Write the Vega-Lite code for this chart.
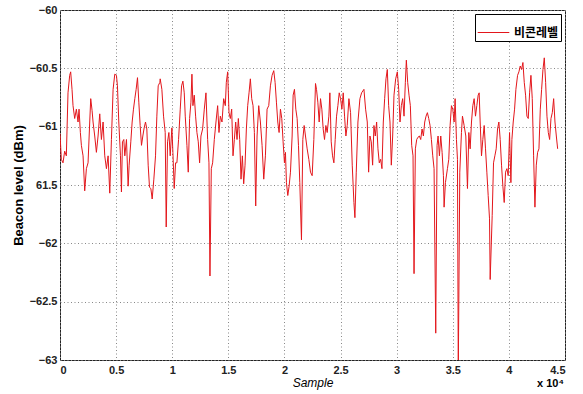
{
  "$schema": "https://vega.github.io/schema/vega-lite/v6.json",
  "width": 505,
  "height": 350,
  "autosize": {"type": "none"},
  "padding": {"left": 60, "top": 10, "right": 18, "bottom": 34},
  "background": "white",
  "config": {
    "view": {"stroke": "#222", "strokeWidth": 1},
    "font": "Liberation Sans",
    "axis": {
      "domain": false,
      "ticks": false,
      "grid": true,
      "gridColor": "#888",
      "gridDash": [1, 2.5],
      "gridWidth": 1,
      "gridOpacity": 1,
      "labelFont": "Liberation Sans",
      "labelFontWeight": "bold",
      "labelFontSize": 11,
      "labelColor": "#222",
      "titleFont": "Liberation Sans",
      "titleColor": "#000"
    }
  },
  "datasets": {
    "beacon": [
      {"s":0,"v":-61.06},{"s":119,"v":-61.28},{"s":268,"v":-61.31},{"s":417,"v":-61.21},{"s":565,"v":-61.25},{"s":714,"v":-60.71},{"s":863,"v":-60.56},{"s":952,"v":-60.53},{"s":1071,"v":-60.68},{"s":1161,"v":-60.82},{"s":1310,"v":-60.93},{"s":1458,"v":-60.85},{"s":1607,"v":-60.96},{"s":1696,"v":-60.85},{"s":1815,"v":-61.05},{"s":1905,"v":-61.16},{"s":2054,"v":-61.25},{"s":2202,"v":-61.55},{"s":2351,"v":-61.36},{"s":2500,"v":-61.31},{"s":2649,"v":-60.96},{"s":2738,"v":-60.76},{"s":2857,"v":-60.86},{"s":2946,"v":-60.96},{"s":3095,"v":-61.08},{"s":3244,"v":-61.22},{"s":3393,"v":-61.08},{"s":3542,"v":-60.89},{"s":3690,"v":-61.11},{"s":3839,"v":-60.96},{"s":3988,"v":-61.25},{"s":4137,"v":-61.36},{"s":4286,"v":-61.25},{"s":4435,"v":-61.57},{"s":4583,"v":-61.11},{"s":4732,"v":-60.68},{"s":4881,"v":-60.55},{"s":5030,"v":-60.56},{"s":5119,"v":-60.65},{"s":5238,"v":-60.96},{"s":5387,"v":-61.25},{"s":5476,"v":-61.56},{"s":5565,"v":-61.13},{"s":5685,"v":-61.11},{"s":5774,"v":-61.25},{"s":5923,"v":-61.11},{"s":6071,"v":-61.51},{"s":6161,"v":-61.33},{"s":6310,"v":-61.13},{"s":6429,"v":-60.96},{"s":6548,"v":-60.85},{"s":6667,"v":-60.76},{"s":6786,"v":-60.68},{"s":6905,"v":-60.58},{"s":7024,"v":-60.79},{"s":7143,"v":-60.99},{"s":7262,"v":-61.16},{"s":7381,"v":-61.08},{"s":7500,"v":-61.01},{"s":7619,"v":-60.96},{"s":7738,"v":-61.02},{"s":7857,"v":-61.33},{"s":7976,"v":-61.52},{"s":8095,"v":-61.53},{"s":8214,"v":-61.62},{"s":8363,"v":-61.45},{"s":8512,"v":-61.25},{"s":8631,"v":-60.91},{"s":8750,"v":-60.65},{"s":8899,"v":-60.62},
      {"s":8929,"v":-60.59},{"s":9077,"v":-60.68},{"s":9226,"v":-60.91},{"s":9375,"v":-61.05},{"s":9464,"v":-61.86},{"s":9583,"v":-61.13},{"s":9702,"v":-61.05},{"s":9821,"v":-61.25},{"s":9970,"v":-61.01},{"s":10060,"v":-61.22},{"s":10179,"v":-61.53},{"s":10298,"v":-61.31},{"s":10417,"v":-61.31},{"s":10565,"v":-61.11},{"s":10714,"v":-60.85},{"s":10833,"v":-60.65},{"s":10952,"v":-60.61},{"s":11071,"v":-60.71},{"s":11161,"v":-60.91},{"s":11310,"v":-61.16},{"s":11429,"v":-61.39},{"s":11548,"v":-60.93},{"s":11667,"v":-60.79},{"s":11756,"v":-60.55},{"s":11845,"v":-60.82},{"s":11964,"v":-60.73},{"s":12083,"v":-60.91},{"s":12202,"v":-61.05},{"s":12321,"v":-61.13},{"s":12440,"v":-61.31},{"s":12560,"v":-61.08},{"s":12708,"v":-61.02},{"s":12857,"v":-60.85},{"s":13006,"v":-60.71},{"s":13155,"v":-61.11},{"s":13274,"v":-61.31},{"s":13363,"v":-62.28},{"s":13482,"v":-61.36},{"s":13601,"v":-61.31},{"s":13750,"v":-61.11},{"s":13899,"v":-60.96},{"s":14048,"v":-60.82},{"s":14167,"v":-61.05},{"s":14286,"v":-60.91},{"s":14435,"v":-60.96},{"s":14583,"v":-60.76},{"s":14732,"v":-60.82},{"s":14821,"v":-60.62},{"s":14940,"v":-60.53},{"s":15060,"v":-60.88},{"s":15179,"v":-60.93},{"s":15298,"v":-60.85},{"s":15417,"v":-61.25},{"s":15536,"v":-61.11},{"s":15655,"v":-60.96},{"s":15774,"v":-61.11},{"s":15893,"v":-60.93},{"s":16012,"v":-61.11},{"s":16131,"v":-61.45},{"s":16250,"v":-61.25},{"s":16369,"v":-61.49},{"s":16488,"v":-61.33},{"s":16607,"v":-61.02},{"s":16726,"v":-60.82},{"s":16845,"v":-60.71},{"s":16964,"v":-60.59},{"s":17083,"v":-60.76},{"s":17202,"v":-60.82},{"s":17321,"v":-61.05},{"s":17440,"v":-61.68},{"s":17560,"v":-61.08},{"s":17708,"v":-60.82},{"s":17857,"v":-60.96},{"s":18006,"v":-61.16},
      {"s":18155,"v":-61.45},{"s":18304,"v":-61.25},{"s":18452,"v":-60.85},{"s":18601,"v":-60.82},{"s":18750,"v":-60.65},{"s":18899,"v":-60.56},{"s":19048,"v":-60.52},{"s":19167,"v":-60.62},{"s":19286,"v":-60.79},{"s":19405,"v":-60.96},{"s":19524,"v":-61.05},{"s":19643,"v":-60.85},{"s":19762,"v":-60.93},{"s":19881,"v":-61.13},{"s":20000,"v":-61.31},{"s":20089,"v":-61.22},{"s":20179,"v":-61.48},{"s":20298,"v":-61.59},{"s":20417,"v":-61.51},{"s":20536,"v":-61.39},{"s":20685,"v":-61.08},{"s":20774,"v":-60.73},{"s":20893,"v":-60.68},{"s":21012,"v":-60.85},{"s":21131,"v":-60.93},{"s":21250,"v":-61.16},{"s":21369,"v":-61.48},{"s":21518,"v":-61.97},{"s":21637,"v":-61.11},{"s":21756,"v":-60.99},{"s":21875,"v":-61.08},{"s":22024,"v":-61.19},{"s":22173,"v":-61.28},{"s":22321,"v":-61.39},{"s":22470,"v":-61.42},{"s":22619,"v":-61.11},{"s":22768,"v":-60.63},{"s":22857,"v":-60.68},{"s":22976,"v":-60.79},{"s":23095,"v":-60.96},{"s":23214,"v":-60.76},{"s":23333,"v":-60.85},{"s":23452,"v":-61.02},{"s":23571,"v":-61.11},{"s":23690,"v":-60.99},{"s":23810,"v":-61.05},{"s":23958,"v":-60.91},{"s":24048,"v":-60.71},{"s":24167,"v":-61.13},{"s":24286,"v":-61.25},{"s":24405,"v":-61.31},{"s":24524,"v":-61.11},{"s":24643,"v":-60.91},{"s":24762,"v":-60.82},{"s":24881,"v":-60.71},{"s":25000,"v":-60.76},{"s":25119,"v":-60.85},{"s":25238,"v":-60.71},{"s":25357,"v":-60.91},{"s":25476,"v":-61.08},{"s":25595,"v":-60.99},{"s":25744,"v":-60.76},{"s":25893,"v":-60.88},{"s":26042,"v":-61.33},{"s":26190,"v":-61.65},{"s":26280,"v":-61.78},{"s":26399,"v":-61.39},{"s":26548,"v":-60.96},{"s":26726,"v":-60.76},{"s":26875,"v":-60.71},
      {"s":27083,"v":-60.68},{"s":27232,"v":-60.85},{"s":27381,"v":-60.96},{"s":27500,"v":-61.39},{"s":27619,"v":-61.08},{"s":27738,"v":-61.13},{"s":27857,"v":-61.33},{"s":27976,"v":-60.99},{"s":28095,"v":-61.08},{"s":28214,"v":-60.96},{"s":28333,"v":-61.19},{"s":28452,"v":-61.31},{"s":28571,"v":-61.28},{"s":28690,"v":-61.36},{"s":28810,"v":-60.96},{"s":28929,"v":-60.76},{"s":29048,"v":-60.59},{"s":29167,"v":-60.51},{"s":29286,"v":-60.82},{"s":29405,"v":-60.96},{"s":29524,"v":-61.33},{"s":29643,"v":-61.08},{"s":29762,"v":-60.73},{"s":29911,"v":-60.59},{"s":30060,"v":-60.53},{"s":30179,"v":-60.68},{"s":30298,"v":-60.96},{"s":30417,"v":-60.82},{"s":30536,"v":-60.76},{"s":30655,"v":-60.91},{"s":30774,"v":-60.62},{"s":30863,"v":-60.43},{"s":30982,"v":-60.62},{"s":31101,"v":-60.73},{"s":31220,"v":-60.82},{"s":31339,"v":-61.16},{"s":31458,"v":-61.25},{"s":31548,"v":-62.26},{"s":31667,"v":-61.19},{"s":31786,"v":-61.11},{"s":31905,"v":-61.09},{"s":32024,"v":-61.08},{"s":32143,"v":-61.11},{"s":32262,"v":-61.02},{"s":32381,"v":-61.08},{"s":32500,"v":-60.96},{"s":32619,"v":-60.91},{"s":32738,"v":-60.88},{"s":32857,"v":-60.93},{"s":32976,"v":-60.99},{"s":33095,"v":-61.11},{"s":33214,"v":-61.25},{"s":33333,"v":-61.36},{"s":33482,"v":-62.77},{"s":33601,"v":-61.16},{"s":33690,"v":-61.08},{"s":33810,"v":-61.25},{"s":33929,"v":-61.08},{"s":34048,"v":-61.22},{"s":34167,"v":-61.42},{"s":34226,"v":-61.69},{"s":34345,"v":-61.48},{"s":34524,"v":-61.36},{"s":34643,"v":-61.28},{"s":34762,"v":-60.99},{"s":34881,"v":-60.82},{"s":35000,"v":-60.85},{"s":35119,"v":-60.96},{"s":35208,"v":-60.76},{"s":35327,"v":-61.11},{"s":35417,"v":-61.28},{"s":35491,"v":-63.1},{"s":35625,"v":-61.39},{"s":35774,"v":-61.05},
      {"s":35863,"v":-60.91},{"s":36012,"v":-60.99},{"s":36161,"v":-61.08},{"s":36310,"v":-61.53},{"s":36429,"v":-61.05},{"s":36548,"v":-61.19},{"s":36667,"v":-60.96},{"s":36786,"v":-60.82},{"s":36905,"v":-60.76},{"s":37024,"v":-60.91},{"s":37143,"v":-60.82},{"s":37262,"v":-60.73},{"s":37351,"v":-60.71},{"s":37440,"v":-60.96},{"s":37560,"v":-61.25},{"s":37679,"v":-61.11},{"s":37798,"v":-60.99},{"s":37917,"v":-61.19},{"s":38036,"v":-61.39},{"s":38155,"v":-61.59},{"s":38274,"v":-61.79},{"s":38333,"v":-62.31},{"s":38512,"v":-61.76},{"s":38631,"v":-61.31},{"s":38750,"v":-61.25},{"s":38869,"v":-61.19},{"s":38988,"v":-61.02},{"s":39107,"v":-60.96},{"s":39226,"v":-61.11},{"s":39345,"v":-61.33},{"s":39464,"v":-61.51},{"s":39583,"v":-61.65},{"s":39702,"v":-61.39},{"s":39821,"v":-61.36},{"s":39940,"v":-61.42},{"s":40060,"v":-61.05},{"s":40179,"v":-61.48},{"s":40268,"v":-61.11},{"s":40387,"v":-60.96},{"s":40506,"v":-60.85},{"s":40625,"v":-60.68},{"s":40774,"v":-60.56},{"s":40893,"v":-60.53},{"s":41012,"v":-60.48},{"s":41131,"v":-60.51},{"s":41250,"v":-60.45},{"s":41369,"v":-60.62},{"s":41488,"v":-60.73},{"s":41607,"v":-60.91},{"s":41726,"v":-60.93},{"s":41845,"v":-60.71},{"s":41964,"v":-60.56},{"s":42083,"v":-60.76},{"s":42202,"v":-61.25},{"s":42321,"v":-61.69},{"s":42440,"v":-61.33},{"s":42560,"v":-61.22},{"s":42679,"v":-61.19},{"s":42798,"v":-60.85},{"s":42917,"v":-60.68},{"s":43036,"v":-60.51},{"s":43155,"v":-60.41},{"s":43274,"v":-60.62},{"s":43393,"v":-60.91},{"s":43512,"v":-61.05},{"s":43631,"v":-61.11},{"s":43750,"v":-60.93},{"s":43869,"v":-60.88},{"s":43988,"v":-60.76},{"s":44107,"v":-60.96},{"s":44226,"v":-61.08},{"s":44345,"v":-61.19}
    ],
    "note": [{"t": "x 10⁴"}]
  },
  "layer": [
    {
      "data": {"name": "beacon"},
      "transform": [{"calculate": "'비콘레벨'", "as": "series"}],
      "mark": {"type": "line", "strokeWidth": 1, "clip": true, "interpolate": "linear"},
      "encoding": {
        "x": {
          "field": "s", "type": "quantitative",
          "scale": {"domain": [0, 45000], "nice": false, "zero": false},
          "axis": {
            "values": [0, 5000, 10000, 15000, 20000, 25000, 30000, 35000, 40000, 45000],
            "labelExpr": "format(datum.value / 10000, '~g')",
            "title": "Sample",
            "titleFontSize": 12,
            "titleFontWeight": "normal",
            "titleFontStyle": "italic",
            "labelPadding": 4,
            "titlePadding": 2
          }
        },
        "y": {
          "field": "v", "type": "quantitative",
          "scale": {"domain": [-63, -60], "nice": false, "zero": false},
          "axis": {
            "values": [-63, -62.5, -62, -61.5, -61, -60.5, -60],
            "labelExpr": "datum.value == -61.5 ? '61.5' : format(datum.value, '~g')",
            "title": "Beacon level (dBm)",
            "titleFontSize": 13,
            "titleFontWeight": "bold",
            "labelPadding": 3,
            "titlePadding": 4
          }
        },
        "color": {
          "field": "series", "type": "nominal",
          "scale": {"range": ["#e3161b"]},
          "legend": {
            "title": null,
            "orient": "top-right",
            "offset": 4,
            "padding": 2,
            "strokeColor": "#000",
            "fillColor": "white",
            "symbolType": "stroke",
            "symbolSize": 1000,
            "symbolStrokeWidth": 1,
            "labelFont": "Noto Sans CJK KR",
            "labelFontWeight": "bold",
            "labelFontSize": 12,
            "labelColor": "#000",
            "labelOffset": 4
          }
        }
      }
    },
    {
      "data": {"name": "note"},
      "mark": {"type": "text", "clip": false, "font": "Liberation Sans", "fontWeight": "bold", "fontSize": 11, "dy": 24, "color": "#000"},
      "encoding": {
        "x": {"datum": 43700, "type": "quantitative"},
        "y": {"datum": -63, "type": "quantitative"},
        "text": {"field": "t"}
      }
    }
  ]
}
